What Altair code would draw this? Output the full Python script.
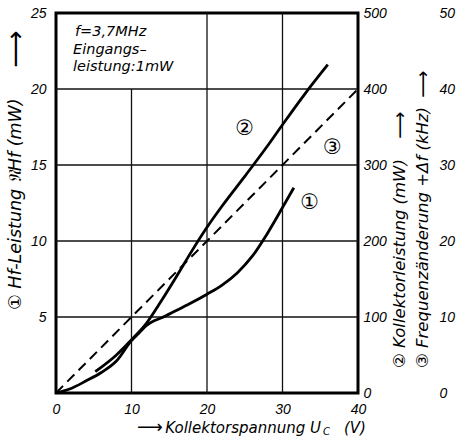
import altair as alt
import pandas as pd

# ---- data ----
# curve 1: Hf-Leistung (mW), left axis 0..25
u1 = [0, 2, 4, 6, 8, 10, 11, 12, 13, 14, 16, 18, 20, 22, 24, 26, 28, 30, 31.5]
p1 = [0, 0.3, 0.8, 1.35, 2.1, 3.45, 3.95, 4.45, 4.75, 4.95, 5.45, 5.95, 6.5, 7.1, 7.9, 9.0, 10.5, 12.2, 13.5]
# curve 2: Kollektorleistung (mW), inner right axis 0..500
u2 = [5.2, 8, 10, 12, 14, 16, 18, 20, 22, 25, 28, 30, 33, 36]
p2 = [28, 50, 70, 92, 122, 154, 187, 218, 246, 285, 325, 353, 394, 432]
# curve 3: Frequenzaenderung (kHz), outer right axis 0..50
u3 = [0, 40]
f3 = [0, 40]

x_ticks = [0, 10, 20, 30, 40]
left_ticks = [5, 10, 15, 20, 25]
right_ticks = [0, 100, 200, 300, 400, 500]
outer_ticks = [0, 10, 20, 30, 40, 50]
grid_h = [5, 10, 15, 20]
grid_v = [10, 20, 30]
grid_v_top = [20, 25, 25]

W, H = 302, 380
FONT = "DejaVu Sans"
TICKFONT = "Liberation Sans"

df1 = pd.DataFrame({"V": u1, "P": p1})
df2 = pd.DataFrame({"V": u2, "K": p2})
df3 = pd.DataFrame({"V": u3, "F": f3})
dgh = pd.DataFrame({"P": grid_h})
dgv = pd.DataFrame({"V": grid_v, "P0": [0] * len(grid_v), "P1": grid_v_top})

xsc = alt.Scale(domain=[0, 40], nice=False, zero=False)
x_axis = alt.Axis(values=x_ticks, ticks=False, grid=False, domain=False,
                  labelFlush=False, labelPadding=9, title=None)
ysc = alt.Scale(domain=[0, 25], nice=False, zero=False)
y_axis = alt.Axis(values=left_ticks, ticks=False, grid=False, domain=False,
                  labelFlush=False, labelPadding=10, title=None)

X = alt.X("V:Q", scale=xsc, axis=x_axis)

c1 = alt.Chart(df1).mark_line(color="black", strokeWidth=2.8, interpolate="monotone").encode(
    x=X, y=alt.Y("P:Q", scale=ysc, axis=y_axis))

gh = alt.Chart(dgh).mark_rule(color="#111", strokeWidth=1.3).encode(
    y=alt.Y("P:Q", scale=ysc, axis=y_axis))
gv = alt.Chart(dgv).mark_rule(color="#111", strokeWidth=1.3).encode(
    x=X, y=alt.Y("P0:Q", scale=ysc, axis=y_axis), y2="P1:Q")


def ann(txt, xv, yv, size=21):
    return alt.Chart(pd.DataFrame({"a": [0]})).mark_text(
        font="DejaVu Sans", fontSize=size, color="black").encode(
        x=alt.XDatum(xv, scale=xsc, axis=x_axis, type="quantitative"),
        y=alt.YDatum(yv, scale=ysc, axis=y_axis, type="quantitative"),
        text=alt.value(txt))


lab1 = ann("①", 33.6, 12.5)
lab2 = ann("②", 25.0, 17.4)
lab3 = ann("③", 36.6, 16.1)


def ptext(txt, xp, yp, size=14, angle=0, align="left", baseline="middle"):
    return alt.Chart(pd.DataFrame({"a": [0]})).mark_text(
        font=FONT, fontStyle="italic", fontSize=size, align=align, baseline=baseline,
        angle=angle, color="black").encode(x=alt.value(xp), y=alt.value(yp), text=alt.value(txt))


info1 = ptext("f=3,7MHz", 19, 19, size=14.5)
info2 = ptext("Eingangs–", 17, 37, size=14.5)
info3 = ptext("leistung:1mW", 17, 54, size=14.5)

t_left = ptext("① Hf-Leistung 𝔑Hf (mW)", -40, 297, size=17.5, angle=270)
a_left = ptext("⟶", -40, 36, size=26, angle=270, align="center")
t_r1 = ptext("② Kollektorleistung (mW)", 344, 355, size=16.5, angle=270)
a_r1 = ptext("⟶", 344, 112, size=19, angle=270, align="center")
t_r2 = ptext("③ Frequenzänderung +Δf (kHz)", 367, 355, size=16.5, angle=270)
a_r2 = ptext("⟶", 367, 71, size=19, angle=270, align="center")
a_b = ptext("⟶", 94, 415, size=18, align="center")
t_b1 = ptext("Kollektorspannung U", 265, 415, size=15, align="right")
t_b2 = ptext("C", 267, 419, size=10)
t_b3 = ptext("(V)", 288, 415, size=15)

inner = alt.layer(gh, gv, c1, lab1, lab2, lab3, info1, info2, info3,
                  t_left, a_left, t_r1, a_r1, t_r2, a_r2, a_b, t_b1, t_b2, t_b3)

c2 = alt.Chart(df2).mark_line(color="black", strokeWidth=2.8, interpolate="monotone").encode(
    x=X,
    y=alt.Y("K:Q", scale=alt.Scale(domain=[0, 500], nice=False, zero=False),
            axis=alt.Axis(orient="right", values=right_ticks, ticks=False, grid=False,
                          domain=False, labelFlush=False, labelPadding=5, title=None)))

c3 = alt.Chart(df3).mark_line(color="black", strokeWidth=2, strokeDash=[10, 6]).encode(
    x=X,
    y=alt.Y("F:Q", scale=alt.Scale(domain=[0, 50], nice=False, zero=False),
            axis=alt.Axis(orient="right", values=outer_ticks, ticks=False, grid=False,
                          domain=False, labelFlush=False, offset=78, labelPadding=3,
                          title=None)))

chart = alt.layer(inner, c2, c3).resolve_scale(y="independent").properties(
    width=W, height=H,
    autosize=alt.AutoSizeParams(type="none"),
    padding={"left": 56, "top": 13, "right": 102, "bottom": 48},
    background="white",
).configure_view(stroke="black", strokeWidth=3).configure_axis(
    labelFont=TICKFONT, labelFontStyle="italic", labelFontSize=14, labelColor="black",
    labelFontWeight="normal")

chart.save("out.html", embed_options={"renderer": "svg", "actions": False})
